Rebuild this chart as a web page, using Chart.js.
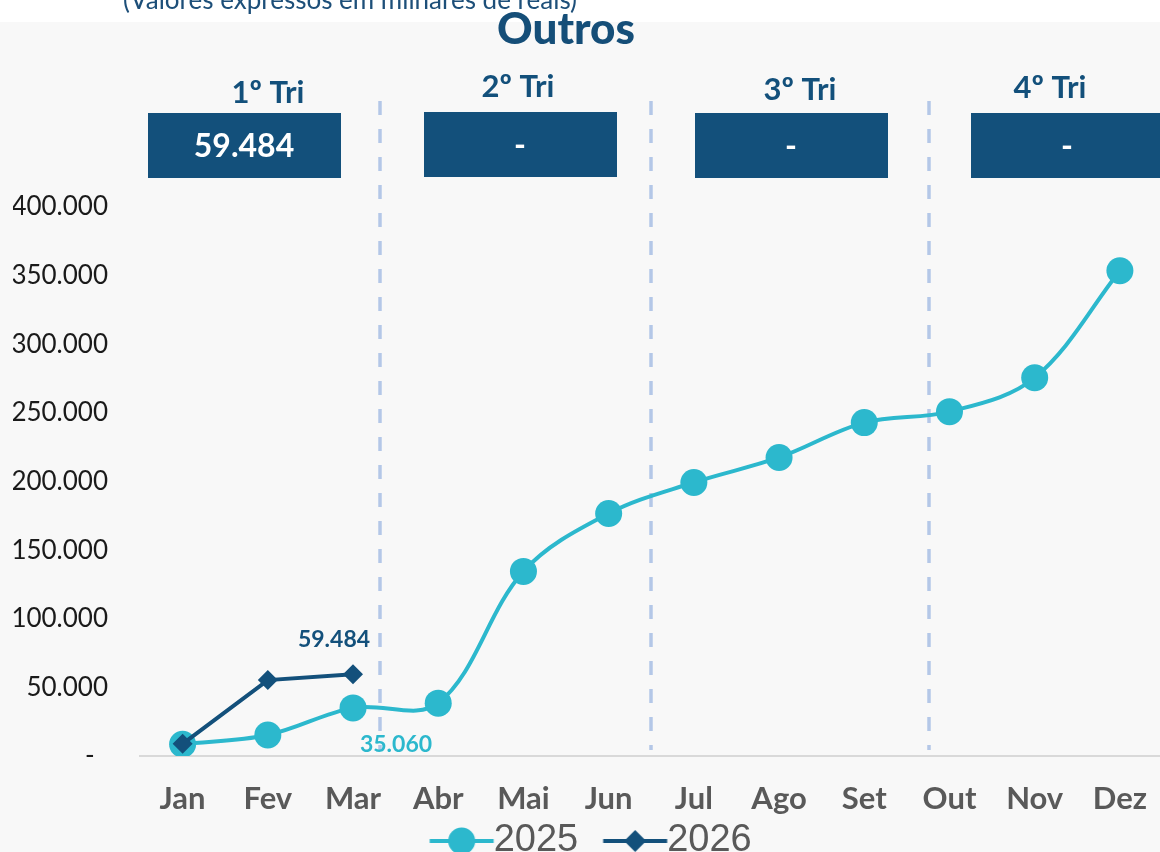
<!DOCTYPE html>
<html lang="pt-BR">
<head>
<meta charset="utf-8">
<title>Outros</title>
<script src="https://cdn.jsdelivr.net/npm/chart.js@4.4.1/dist/chart.umd.min.js"></script>
<style>
  html, body { margin: 0; padding: 0; background: #fff; overflow: hidden; }
  #wrap { position: relative; width: 1160px; height: 852px; overflow: hidden; }
  canvas { display: block; }
</style>
</head>
<body>
<div id="wrap"><canvas id="grafico" width="1176" height="870"></canvas></div>
<script>
// dados
const meses = ['Jan', 'Fev', 'Mar', 'Abr', 'Mai', 'Jun', 'Jul', 'Ago', 'Set', 'Out', 'Nov', 'Dez'];
const valores_2025 = [8600, 15300, 35060, 38500, 134500, 176700, 199300, 217500, 242900, 250900, 275600, 353500];
const valores_2026 = [8900, 55300, 59484];
const trimestres = ['1º Tri', '2º Tri', '3º Tri', '4º Tri'];
const totais_trimestre = ['59.484', '-', '-', '-'];
const ticks_y = [0, 50000, 100000, 150000, 200000, 250000, 300000, 350000, 400000];

const cor_2025 = '#2cb8cd';
const cor_2026 = '#13507b';
const cor_caixa = '#13507b';
const cor_divisoria = '#b4c7e7';

const formatar = (n) => n === 0 ? '-  ' : String(n).replace(/\B(?=(\d{3})+(?!\d))/g, '.');

// icones da legenda (linha com marcador no meio), desenhados a direita do centro
const criarIcone = (cor, tipo) => {
    const c = document.createElement('canvas');
    c.width = 128; c.height = 30;
    const g = c.getContext('2d');
    const x0 = 53.5;
    g.strokeStyle = cor; g.lineWidth = 4;
    g.beginPath(); g.moveTo(x0, 15); g.lineTo(x0 + 64, 15); g.stroke();
    g.fillStyle = cor;
    g.beginPath();
    if (tipo === 'circulo') {
        g.arc(x0 + 32, 15, 13.5, 0, Math.PI * 2);
    } else {
        g.moveTo(x0 + 32, 4); g.lineTo(x0 + 43, 15); g.lineTo(x0 + 32, 26); g.lineTo(x0 + 21, 15); g.closePath();
    }
    g.fill();
    return c;
};
const icones = [criarIcone(cor_2025, 'circulo'), criarIcone(cor_2026, 'losango')];

const fundoETitulos = {
    id: 'fundoETitulos',
    beforeDraw(chart) {
        const ctx = chart.ctx;
        ctx.save();
        ctx.fillStyle = '#ffffff';
        ctx.fillRect(0, 0, chart.width, chart.height);
        ctx.fillStyle = '#f8f8f8';
        ctx.fillRect(0, 22, chart.width, chart.height - 22);
        ctx.textAlign = 'center';
        ctx.textBaseline = 'alphabetic';
        ctx.fillStyle = '#1d4f79';
        ctx.font = '26px Lato';
        ctx.fillText('(Valores expressos em milhares de reais)', 350, 9);
        ctx.fillStyle = '#154e78';
        ctx.font = '900 44px Lato';
        ctx.fillText('Outros', 566, 44);
        ctx.restore();
    },
    beforeDatasetsDraw(chart) {
        const ctx = chart.ctx;
        const x = chart.scales.x;
        ctx.save();
        ctx.strokeStyle = cor_divisoria;
        ctx.lineWidth = 3.5;
        ctx.setLineDash([14, 14]);
        [2.32, 5.5, 8.76].forEach(p => {
            const px = Math.round(x.getPixelForValue(p));
            ctx.beginPath(); ctx.moveTo(px, 101); ctx.lineTo(px, 750); ctx.stroke();
        });
        ctx.restore();

        // caixas dos trimestres: [esquerda, topo, centro do rotulo, linha de base do rotulo]
        const caixas = [[148, 113, 268, 103], [424, 112, 518, 97], [695, 113, 800, 100], [971, 113, 1050, 98]];
        ctx.save();
        ctx.textAlign = 'center';
        ctx.textBaseline = 'alphabetic';
        caixas.forEach((c, i) => {
            ctx.fillStyle = cor_caixa;
            ctx.fillRect(c[0], c[1], 193, 65);
            ctx.font = 'bold 31px Lato';
            ctx.fillStyle = '#13507b';
            ctx.fillText(trimestres[i], c[2], c[3]);
            ctx.fillStyle = '#ffffff';
            ctx.font = 'bold 32px Lato';
            ctx.fillText(totais_trimestre[i], c[0] + 96, c[1] + 44);
        });
        ctx.restore();
    },
    afterDatasetsDraw(chart) {
        const ctx = chart.ctx;
        ctx.save();
        ctx.textAlign = 'center';
        ctx.textBaseline = 'alphabetic';
        ctx.font = 'bold 23px Lato';
        const p26 = chart.getDatasetMeta(1).data[2];
        ctx.fillStyle = cor_2026;
        ctx.fillText(formatar(valores_2026[2]), p26.x - 19, p26.y - 27);
        const p25 = chart.getDatasetMeta(0).data[2];
        ctx.fillStyle = cor_2025;
        ctx.fillText(formatar(valores_2025[2]), p25.x + 43, p25.y + 44);
        ctx.restore();
    }
};

const grafico = new Chart(document.getElementById('grafico').getContext('2d'), {
    type: 'line',
    data: {
        labels: meses,
        datasets: [{
            label: '2025',
            data: valores_2025,
            borderColor: cor_2025,
            backgroundColor: cor_2025,
            borderWidth: 4,
            tension: 0.35,
            pointStyle: 'circle',
            pointRadius: 13.5,
            pointBorderWidth: 0,
            order: 2
        }, {
            label: '2026',
            data: valores_2026,
            borderColor: cor_2026,
            backgroundColor: cor_2026,
            borderWidth: 4,
            tension: 0,
            pointStyle: 'rectRot',
            pointRadius: 10,
            pointBorderWidth: 0,
            order: 1
        }]
    },
    options: {
        responsive: false,
        animation: false,
        devicePixelRatio: 1,
        layout: { padding: { top: 207, left: 13, right: 0, bottom: 0 } },
        plugins: {
            title: { display: false },
            tooltip: { enabled: false },
            legend: {
                position: 'bottom',
                labels: {
                    usePointStyle: true,
                    pointStyleWidth: 69,
                    padding: 1,
                    color: '#595959',
                    font: { family: 'Liberation Sans', size: 38 },
                    generateLabels: (chart) => chart.data.datasets.map((ds, i) => ({
                        text: i === chart.data.datasets.length - 1 ? ds.label + '   ' : ds.label,
                        fillStyle: ds.borderColor,
                        strokeStyle: ds.borderColor,
                        lineWidth: 0,
                        pointStyle: icones[i],
                        fontColor: '#595959',
                        hidden: false,
                        datasetIndex: i
                    }))
                }
            }
        },
        scales: {
            x: {
                offset: true,
                grid: { display: false, drawTicks: false },
                border: { display: true, color: '#d9d9d9', width: 2 },
                ticks: { color: '#595959', padding: 24, autoSkip: false, maxRotation: 0, font: { family: 'Lato', size: 31, weight: 'bold' } },
                afterFit: (s) => { s.height = 65; }
            },
            y: {
                min: 0,
                max: 400000,
                afterBuildTicks: (s) => { s.ticks = ticks_y.map(v => ({ value: v })); },
                grid: { display: false, drawTicks: false },
                border: { display: false },
                ticks: { color: '#1a1a1a', padding: 32, font: { family: 'Lato', size: 26 }, callback: (v) => formatar(v) },
                afterFit: (s) => { s.width = 127; }
            }
        }
    },
    plugins: [fundoETitulos]
});
</script>
</body>
</html>
